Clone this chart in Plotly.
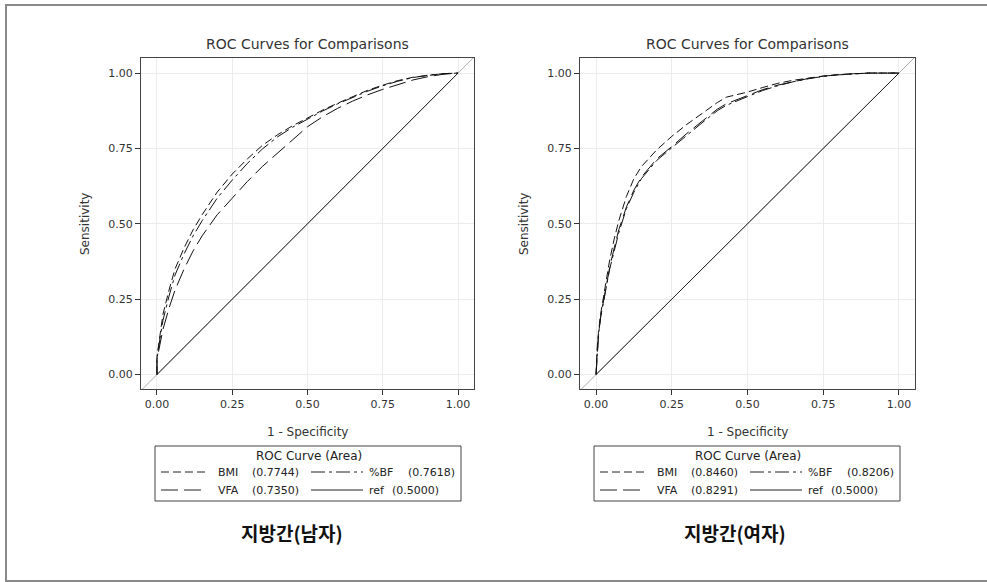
import plotly.graph_objects as go

# ---------------- data ----------------
tick_vals = [0.0, 0.25, 0.5, 0.75, 1.0]
tick_labels = ["0.00", "0.25", "0.50", "0.75", "1.00"]

# men: 1 - specificity grid and sensitivity per predictor
fpr_men = [0, 0, 0.01, 0.02, 0.04, 0.06, 0.09, 0.12, 0.15, 0.20, 0.25, 0.30, 0.35,
           0.40, 0.45, 0.50, 0.55, 0.60, 0.65, 0.70, 0.75, 0.80, 0.85, 0.90, 0.95, 1.0]
tpr_men_bmi = [0, 0.06, 0.13, 0.20, 0.28, 0.35, 0.42, 0.48, 0.53, 0.605, 0.665, 0.715, 0.76,
               0.795, 0.825, 0.852, 0.877, 0.90, 0.922, 0.943, 0.96, 0.975, 0.986, 0.993, 0.998, 1.0]
tpr_men_bf = [0, 0.05, 0.12, 0.18, 0.26, 0.33, 0.40, 0.46, 0.51, 0.585, 0.645, 0.70, 0.748,
              0.788, 0.82, 0.848, 0.874, 0.898, 0.92, 0.94, 0.958, 0.973, 0.985, 0.993, 0.998, 1.0]
tpr_men_vfa = [0, 0.05, 0.10, 0.15, 0.22, 0.28, 0.35, 0.41, 0.46, 0.53, 0.585, 0.64, 0.69,
               0.735, 0.78, 0.822, 0.855, 0.883, 0.907, 0.928, 0.946, 0.962, 0.977, 0.988, 0.996, 1.0]

# women
fpr_women = [0, 0.003, 0.008, 0.015, 0.025, 0.035, 0.045, 0.06, 0.075, 0.10, 0.125, 0.15, 0.20,
             0.25, 0.30, 0.35, 0.40, 0.43, 0.50, 0.55, 0.60, 0.65, 0.70, 0.75, 0.80, 0.85, 0.90, 1.0]
tpr_women_bmi = [0, 0.08, 0.14, 0.20, 0.26, 0.32, 0.38, 0.45, 0.51, 0.59, 0.65, 0.69, 0.745,
                 0.79, 0.83, 0.866, 0.902, 0.92, 0.937, 0.952, 0.966, 0.976, 0.984, 0.99, 0.995, 0.998, 1.0, 1.0]
tpr_women_bf = [0, 0.07, 0.13, 0.19, 0.245, 0.295, 0.35, 0.41, 0.47, 0.55, 0.605, 0.65, 0.71,
                0.752, 0.795, 0.835, 0.875, 0.893, 0.922, 0.942, 0.958, 0.971, 0.981, 0.989, 0.994, 0.997, 1.0, 1.0]
tpr_women_vfa = [0, 0.07, 0.13, 0.19, 0.25, 0.30, 0.355, 0.42, 0.48, 0.555, 0.612, 0.655, 0.715,
                 0.756, 0.80, 0.84, 0.88, 0.898, 0.925, 0.945, 0.96, 0.972, 0.982, 0.99, 0.995, 0.998, 1.0, 1.0]

ref_line = [0.0, 1.0]
ref_ext = [-0.06, 1.06]

auc_men = {"BMI": "0.7744", "%BF": "0.7618", "VFA": "0.7350", "ref": "0.5000"}
auc_women = {"BMI": "0.8460", "%BF": "0.8206", "VFA": "0.8291", "ref": "0.5000"}

captions = ["지방간(남자)", "지방간(여자)"]
plot_title = "ROC Curves for Comparisons"

# ---------------- styling ----------------
W, H = 987, 582
FONT = "DejaVu Sans, Arial, sans-serif"
KFONT = "Noto Sans CJK KR, sans-serif"
DASH = {"BMI": "8px,4px", "%BF": "14px,4px,3px,4px", "VFA": "17px,6px", "ref": "solid"}


def px(x):
    return x / W


def py(y):
    return 1 - y / H


panels = [
    dict(x0=141, x1=474, fpr=fpr_men,
         tprs={"BMI": tpr_men_bmi, "%BF": tpr_men_bf, "VFA": tpr_men_vfa},
         auc=auc_men, caption=captions[0], cap_x=292),
    dict(x0=580, x1=915, fpr=fpr_women,
         tprs={"BMI": tpr_women_bmi, "%BF": tpr_women_bf, "VFA": tpr_women_vfa},
         auc=auc_women, caption=captions[1], cap_x=735),
]
PLOT_TOP, PLOT_BOT = 58, 389

fig = go.Figure()
shapes, annotations = [], []

for i, p in enumerate(panels):
    sfx = "" if i == 0 else str(i + 1)
    xa, ya = "x" + sfx, "y" + sfx

    # full-frame reference diagonal (light) and the 0..1 segment
    fig.add_trace(go.Scatter(x=ref_ext, y=ref_ext, mode="lines", xaxis=xa, yaxis=ya,
                             line=dict(color="#aaaaaa", width=1), showlegend=False, hoverinfo="skip"))
    fig.add_trace(go.Scatter(x=ref_line, y=ref_line, mode="lines", xaxis=xa, yaxis=ya,
                             line=dict(color="#222222", width=1), showlegend=False, name="ref"))
    for key in ["VFA", "%BF", "BMI"]:
        fig.add_trace(go.Scatter(x=p["fpr"], y=p["tprs"][key], mode="lines", xaxis=xa, yaxis=ya,
                                 line=dict(color="#111111", width=1, dash=DASH[key]),
                                 showlegend=False, name=key))

    axis_common = dict(
        tickvals=tick_vals, ticktext=tick_labels, ticks="outside", ticklen=5,
        tickcolor="#333333", tickwidth=1, showline=True, mirror=True, linecolor="#444444",
        linewidth=1, showgrid=True, gridcolor="#ececec", gridwidth=1, zeroline=False,
        tickfont=dict(family=FONT, size=11, color="#333333"), fixedrange=True,
    )
    fig.update_layout(**{
        "xaxis" + sfx: dict(axis_common, range=[-0.053, 1.053], anchor=ya,
                            domain=[px(p["x0"]), px(p["x1"])]),
        "yaxis" + sfx: dict(axis_common, range=[-0.048, 1.05], anchor=xa,
                            domain=[py(PLOT_BOT), py(PLOT_TOP)]),
    })

    cx = (p["x0"] + p["x1"]) / 2
    # title, axis titles, caption
    annotations += [
        dict(text=plot_title, x=px(cx), y=py(44), xref="paper", yref="paper", showarrow=False,
             font=dict(family=FONT, size=14, color="#333333"), xanchor="center", yanchor="middle"),
        dict(text="1 - Specificity", x=px(cx), y=py(432), xref="paper", yref="paper", showarrow=False,
             font=dict(family=FONT, size=12, color="#333333"), xanchor="center", yanchor="middle"),
        dict(text="Sensitivity", x=px(p["x0"] - 56), y=py(224), xref="paper", yref="paper",
             showarrow=False, textangle=-90,
             font=dict(family=FONT, size=12, color="#333333"), xanchor="center", yanchor="middle"),
        dict(text=p["caption"], x=px(p["cap_x"]), y=py(532), xref="paper", yref="paper",
             showarrow=False, font=dict(family=KFONT, size=19, color="#111111", weight=600),
             xanchor="center", yanchor="middle"),
    ]

    # legend box
    bx0 = 155 if i == 0 else 594
    bw = 306
    shapes.append(dict(type="rect", xref="paper", yref="paper", x0=px(bx0), x1=px(bx0 + bw),
                       y0=py(501), y1=py(446), line=dict(color="#444444", width=1)))
    annotations.append(dict(text="ROC Curve (Area)", x=px(bx0 + bw / 2 + 1), y=py(456), xref="paper",
                            yref="paper", showarrow=False, xanchor="center", yanchor="middle",
                            font=dict(family=FONT, size=12, color="#222222")))
    rows = [[("BMI", 6, 61, 95), ("%BF", 156, 212, 251)],
            [("VFA", 6, 61, 95), ("ref", 156, 212, 235)]]
    for r, row in enumerate(rows):
        yy = 472 + r * 18
        for key, lx, nx, vx in row:
            shapes.append(dict(type="line", xref="paper", yref="paper",
                               x0=px(bx0 + lx), x1=px(bx0 + lx + (52 if lx > 100 else 44)),
                               y0=py(yy), y1=py(yy),
                               line=dict(color="#222222", width=1, dash=DASH[key])))
            annotations.append(dict(text=key, x=px(bx0 + nx), y=py(yy), xref="paper", yref="paper",
                                    showarrow=False, xanchor="left", yanchor="middle",
                                    font=dict(family=FONT, size=11, color="#222222")))
            annotations.append(dict(text="(" + p["auc"][key] + ")", x=px(bx0 + vx), y=py(yy),
                                    xref="paper", yref="paper", showarrow=False, xanchor="left",
                                    yanchor="middle",
                                    font=dict(family=FONT, size=11, color="#222222")))

# outer frame
shapes.append(dict(type="rect", xref="paper", yref="paper", x0=px(6), x1=px(995), y0=py(581), y1=py(5),
                   line=dict(color="#8a8a8a", width=2)))

fig.update_layout(width=W, height=H, margin=dict(l=0, r=0, t=0, b=0),
                  paper_bgcolor="white", plot_bgcolor="white",
                  shapes=shapes, annotations=annotations, showlegend=False)

fig.write_html("out.html")
